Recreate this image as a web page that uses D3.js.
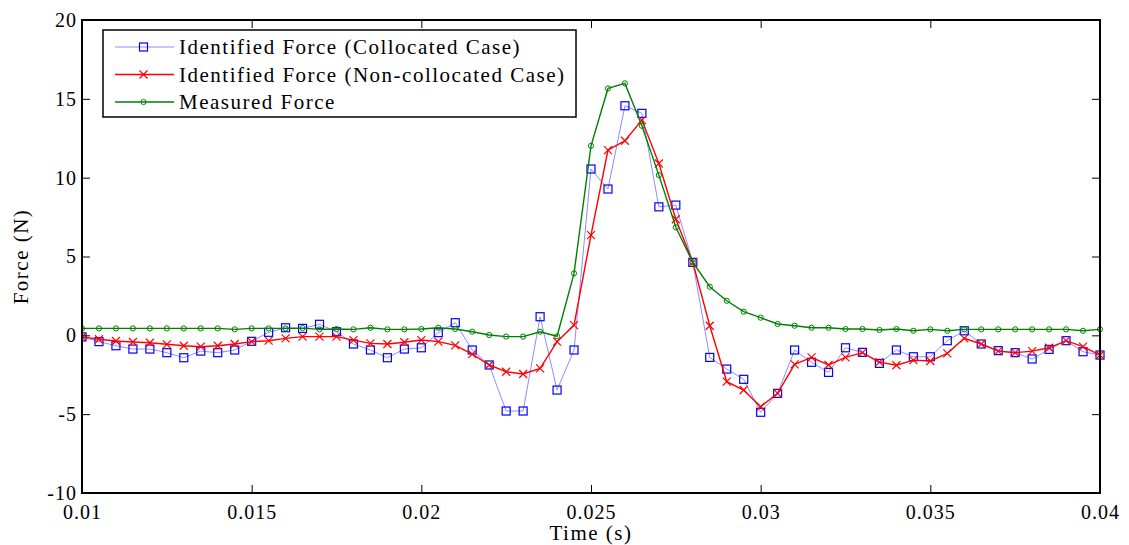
<!DOCTYPE html>
<html>
<head>
<meta charset="utf-8">
<script src="https://cdn.jsdelivr.net/npm/d3@7"></script>
<style>
  body { margin: 0; background: #fff; }
</style>
</head>
<body>
<script>
// time samples (s), first one sits just left of the axis
const times = [
  0.0095, 0.0100, 0.0105, 0.0110, 0.0115, 0.0120, 0.0125, 0.0130, 0.0135, 0.0140, 0.0145,
  0.0150, 0.0155, 0.0160, 0.0165, 0.0170, 0.0175, 0.0180, 0.0185, 0.0190, 0.0195,
  0.0200, 0.0205, 0.0210, 0.0215, 0.0220, 0.0225, 0.0230, 0.0235, 0.0240, 0.0245,
  0.0250, 0.0255, 0.0260, 0.0265, 0.0270, 0.0275, 0.0280, 0.0285, 0.0290, 0.0295,
  0.0300, 0.0305, 0.0310, 0.0315, 0.0320, 0.0325, 0.0330, 0.0335, 0.0340, 0.0345,
  0.0350, 0.0355, 0.0360, 0.0365, 0.0370, 0.0375, 0.0380, 0.0385, 0.0390, 0.0395, 0.0400
];

// identified force, collocated case (N)
const collocated = [
  0.2, -0.1, -0.4, -0.66, -0.87, -0.87, -1.1, -1.42, -1.0, -1.1, -0.93,
  -0.38, 0.19, 0.48, 0.44, 0.7, 0.23, -0.55, -0.93, -1.42, -0.87,
  -0.79, 0.17, 0.8, -0.93, -1.88, -4.8, -4.8, 1.18, -3.47, -0.93,
  10.55, 9.28, 14.56, 14.08, 8.15, 8.26, 4.63, -1.4, -2.14, -2.79,
  -4.88, -3.68, -0.93, -1.71, -2.35, -0.79, -1.08, -1.78, -0.93, -1.36,
  -1.36, -0.34, 0.29, -0.55, -0.97, -1.1, -1.5, -0.89, -0.34, -1.04, -1.25
];

// identified force, non-collocated case (N)
const nonCollocated = [
  0.05, -0.1, -0.25, -0.36, -0.42, -0.47, -0.57, -0.66, -0.72, -0.66, -0.55,
  -0.4, -0.34, -0.19, -0.08, -0.08, -0.08, -0.3, -0.51, -0.55, -0.44,
  -0.3, -0.4, -0.64, -1.19, -1.88, -2.31, -2.45, -2.1, -0.4, 0.65,
  6.36, 11.75, 12.34, 13.65, 10.9, 7.36, 4.63, 0.61, -2.94, -3.47,
  -4.53, -3.68, -1.84, -1.4, -1.88, -1.4, -1.1, -1.7, -1.9, -1.57,
  -1.63, -1.14, -0.19, -0.55, -1.0, -1.1, -1.0, -0.79, -0.34, -0.72, -1.25
];

// measured force (N)
const measured = [
  0.44, 0.44, 0.44, 0.44, 0.44, 0.44, 0.44, 0.44, 0.44, 0.44, 0.38,
  0.44, 0.44, 0.44, 0.46, 0.38, 0.4, 0.38, 0.48, 0.38, 0.38,
  0.4, 0.48, 0.4, 0.23, 0.02, -0.08, -0.08, 0.23, -0.06, 3.93,
  12.02, 15.66, 15.98, 13.29, 10.16, 6.85, 4.63, 3.08, 2.19, 1.5,
  1.12, 0.72, 0.61, 0.48, 0.48, 0.4, 0.4, 0.34, 0.4, 0.29,
  0.38, 0.29, 0.38, 0.38, 0.38, 0.38, 0.38, 0.38, 0.38, 0.29, 0.38
];

const xTicks = [0.01, 0.015, 0.02, 0.025, 0.03, 0.035, 0.04];
const yTicks = [-10, -5, 0, 5, 10, 15, 20];

const seriesNames = [
  'Identified Force (Collocated Case)',
  'Identified Force (Non-collocated Case)',
  'Measured Force'
];

const width = 1129;
const height = 545;
const margin = { top: 20, right: 29, bottom: 52, left: 82 };
const plotW = width - margin.left - margin.right;
const plotH = height - margin.top - margin.bottom;
const font = '"Liberation Serif", "Times New Roman", serif';

const svg = d3
  .select('body')
  .append('svg')
  .attr('width', width)
  .attr('height', height)
  .style('font-family', font);

svg.append('rect').attr('width', width).attr('height', height).attr('fill', '#fff');

const g = svg.append('g').attr('transform', `translate(${margin.left},${margin.top})`);

const x = d3.scaleLinear().domain([0.01, 0.04]).range([0, plotW]);
const y = d3.scaleLinear().domain([-10, 20]).range([plotH, 0]);

// clip left of axis only, markers on the right edge stay whole
svg.append('clipPath')
  .attr('id', 'plot-clip')
  .append('rect')
  .attr('x', 0)
  .attr('y', -10)
  .attr('width', plotW + 10)
  .attr('height', plotH + 20);

const series = [
  { name: seriesNames[0], values: collocated, line: '#8c8cff', lineWidth: 1, marker: 'square', color: '#0000ff' },
  { name: seriesNames[1], values: nonCollocated, line: '#ff0000', lineWidth: 1.4, marker: 'x', color: '#ff0000' },
  { name: seriesNames[2], values: measured, line: '#008000', lineWidth: 1.4, marker: 'circle', color: '#008000' }
];

const line = d3.line().x((d) => x(d.t)).y((d) => y(d.v));

// draw one marker of a given kind at the origin of group sel
function drawMarker(sel, s) {
  if (s.marker === 'square') {
    sel.append('rect')
      .attr('x', -4).attr('y', -4).attr('width', 8).attr('height', 8)
      .attr('fill', 'none').attr('stroke', s.color).attr('stroke-width', 1.2);
  } else if (s.marker === 'x') {
    sel.append('path')
      .attr('d', 'M-4,-4L4,4M-4,4L4,-4')
      .attr('stroke', s.color).attr('stroke-width', 1.2);
  } else {
    sel.append('circle')
      .attr('r', 2.6)
      .attr('fill', 'none').attr('stroke', s.color).attr('stroke-width', 1);
  }
}

const dataLayer = g.append('g').attr('clip-path', 'url(#plot-clip)');

series.forEach((s) => {
  const pts = times.map((t, i) => ({ t: t, v: s.values[i] }));
  dataLayer.append('path')
    .datum(pts)
    .attr('d', line)
    .attr('fill', 'none')
    .attr('stroke', s.line)
    .attr('stroke-width', s.lineWidth);
  dataLayer.selectAll(null)
    .data(pts)
    .join('g')
    .attr('transform', (d) => `translate(${x(d.t)},${y(d.v)})`)
    .each(function () { drawMarker(d3.select(this), s); });
});

// axes box with ticks inside, matlab style
const tickLen = 8;
const fmt = (d) => String(d);
const axisBottom = g.append('g').attr('transform', `translate(0,${plotH})`)
  .call(d3.axisBottom(x).tickValues(xTicks).tickSize(-tickLen).tickPadding(tickLen + 4).tickFormat(fmt));
const axisTop = g.append('g')
  .call(d3.axisTop(x).tickValues(xTicks).tickSize(-tickLen).tickFormat(''));
const axisLeft = g.append('g')
  .call(d3.axisLeft(y).tickValues(yTicks).tickSize(-tickLen).tickPadding(5).tickFormat(fmt));
const axisRight = g.append('g').attr('transform', `translate(${plotW},0)`)
  .call(d3.axisRight(y).tickValues(yTicks).tickSize(-tickLen).tickFormat(''));

[axisBottom, axisTop, axisLeft, axisRight].forEach((a) => {
  a.select('.domain').remove();
  a.selectAll('line').attr('stroke', '#000').attr('stroke-width', 1);
  a.selectAll('text')
    .attr('fill', '#000')
    .style('font-family', font)
    .style('font-size', '20px')
    .style('letter-spacing', '1px');
});

g.append('rect')
  .attr('width', plotW)
  .attr('height', plotH)
  .attr('fill', 'none')
  .attr('stroke', '#000')
  .attr('stroke-width', 2);

// axis titles
svg.append('text')
  .text('Time (s)')
  .attr('x', margin.left + plotW / 2)
  .attr('y', 540)
  .attr('text-anchor', 'middle')
  .style('font-size', '21px')
  .style('letter-spacing', '1.5px');

svg.append('text')
  .text('Force (N)')
  .attr('transform', `translate(28,${margin.top + plotH / 2}) rotate(-90)`)
  .attr('text-anchor', 'middle')
  .style('font-size', '21px')
  .style('letter-spacing', '1.5px');

// legend
const legend = g.append('g').attr('transform', 'translate(21,10)');
legend.append('rect')
  .attr('width', 473)
  .attr('height', 87)
  .attr('fill', '#fff')
  .attr('stroke', '#000')
  .attr('stroke-width', 1.5);

series.forEach((s, i) => {
  const row = legend.append('g').attr('transform', `translate(0,${17 + i * 27.5})`);
  row.append('line')
    .attr('x1', 12).attr('x2', 71)
    .attr('stroke', s.line).attr('stroke-width', s.lineWidth);
  drawMarker(row.append('g').attr('transform', 'translate(40.5,0)'), s);
  row.append('text')
    .text(s.name)
    .attr('x', 76)
    .attr('dy', '0.35em')
    .style('font-size', '21px')
    .style('letter-spacing', '1.5px');
});
</script>
</body>
</html>
